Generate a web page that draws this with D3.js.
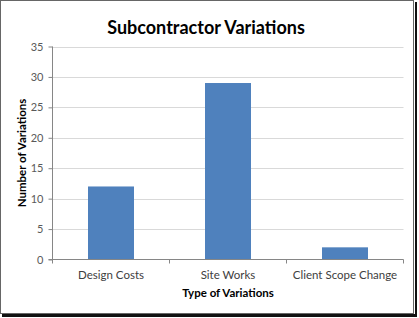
<!DOCTYPE html>
<html>
<head>
<meta charset="utf-8">
<script src="https://cdn.jsdelivr.net/npm/d3@7"></script>
<style>
  body { margin: 0; background: #fff; }
  text { font-family: Lato, "Open Sans", sans-serif; }
</style>
</head>
<body>
<div id="chart"></div>
<script>
const categories = ["Design Costs", "Site Works", "Client Scope Change"];
const variations = [12, 29, 2];
const yTicks = [0, 5, 10, 15, 20, 25, 30, 35];

const width = 419,
  height = 318,
  plot = { left: 52.5, right: 403.5, top: 46.5, bottom: 259.5 };

const svg = d3.select("#chart")
  .append("svg")
  .attr("width", width)
  .attr("height", height);

// frame with shadow
svg.append("rect")
  .attr("x", 0.5).attr("y", 0.5)
  .attr("width", 413).attr("height", 313)
  .attr("fill", "#fff")
  .attr("stroke", "#666");
svg.append("line")
  .attr("x1", 416).attr("x2", 416).attr("y1", 2).attr("y2", 317)
  .attr("stroke", "#111").attr("stroke-width", 2);
svg.append("line")
  .attr("x1", 2).attr("x2", 417).attr("y1", 315.5).attr("y2", 315.5)
  .attr("stroke", "#111").attr("stroke-width", 3);

const x = d3.scaleBand()
  .domain(categories)
  .range([plot.left, plot.right])
  .paddingInner(0.607)
  .paddingOuter(0.3035);

const y = d3.scaleLinear()
  .domain([0, 35])
  .range([plot.bottom, plot.top]);

// gridlines
svg.append("g")
  .selectAll("line")
  .data(yTicks.filter(d => d > 0))
  .join("line")
  .attr("x1", plot.left).attr("x2", plot.right)
  .attr("y1", d => Math.round(y(d)) + 0.5)
  .attr("y2", d => Math.round(y(d)) + 0.5)
  .attr("stroke", "#d9d9d9");

// bars
svg.append("g")
  .selectAll("rect")
  .data(categories)
  .join("rect")
  .attr("x", d => x(d))
  .attr("width", x.bandwidth())
  .attr("y", (d, i) => y(variations[i]))
  .attr("height", (d, i) => y(0) - y(variations[i]))
  .attr("fill", "#4f81bd");

// y axis
const yAxis = svg.append("g")
  .attr("transform", `translate(${plot.left},0)`)
  .call(d3.axisLeft(y).tickValues(yTicks).tickSize(4).tickPadding(5));
yAxis.selectAll("line, path").attr("stroke", "#868686");
yAxis.select(".domain").attr("d", `M0,${plot.top}V${plot.bottom}`);
yAxis.selectAll("text")
  .attr("fill", "#595959")
  .style("font-size", "11px")
  .style("font-family", "Lato, 'Open Sans', sans-serif");

// x axis with boundary ticks
const xAxisG = svg.append("g")
  .attr("transform", `translate(0,${plot.bottom})`);
xAxisG.append("line")
  .attr("x1", plot.left - 4).attr("x2", plot.right)
  .attr("stroke", "#868686");
const step = (plot.right - plot.left) / categories.length;
xAxisG.selectAll(".tk")
  .data(d3.range(categories.length + 1))
  .join("line")
  .attr("class", "tk")
  .attr("x1", i => plot.left + i * step)
  .attr("x2", i => plot.left + i * step)
  .attr("y1", 0).attr("y2", 4)
  .attr("stroke", "#868686");
xAxisG.selectAll(".lbl")
  .data(categories)
  .join("text")
  .attr("class", "lbl")
  .attr("x", d => x(d) + x.bandwidth() / 2)
  .attr("y", 19)
  .attr("text-anchor", "middle")
  .attr("fill", "#404040")
  .style("font-size", "11.5px")
  .text(d => d);

// titles
svg.append("text")
  .attr("x", 206).attr("y", 34)
  .attr("text-anchor", "middle")
  .style("font-size", "18px")
  .style("font-weight", "bold")
  .attr("fill", "#000")
  .text("Subcontractor Variations");

svg.append("text")
  .attr("x", 228).attr("y", 297)
  .attr("text-anchor", "middle")
  .style("font-size", "11.5px")
  .style("font-weight", "bold")
  .attr("fill", "#000")
  .text("Type of Variations");

svg.append("text")
  .attr("transform", "translate(26,153) rotate(-90)")
  .attr("text-anchor", "middle")
  .style("font-size", "11.5px")
  .style("font-weight", "bold")
  .attr("fill", "#000")
  .text("Number of Variations");
</script>
</body>
</html>
